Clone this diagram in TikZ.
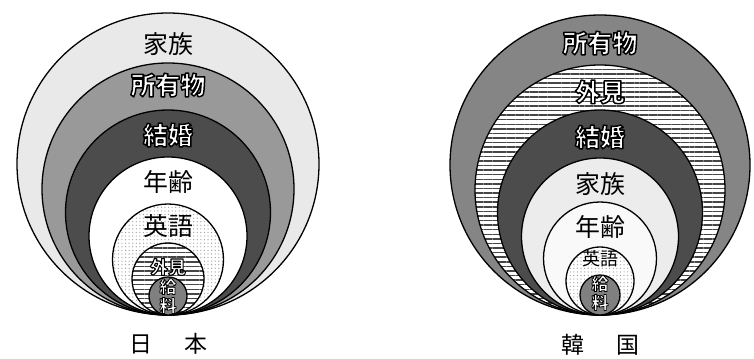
\documentclass[tikz,border=0pt]{standalone}
\usepackage{fontspec}
\setmainfont{Noto Sans CJK JP}
\usetikzlibrary{calc,patterns.meta}

% white letters with a black rim (fill + stroke text mode)
\newcommand{\halo}[2][1.5]{{\bfseries\color{white}%
  \special{pdf:literal direct 2 Tr #1 w 1 j 0 0 0 RG}#2\special{pdf:literal direct 0 Tr}}}

\tikzset{
  ring/.style={draw=black, line width=1.3pt},
  dotring/.style={ring, preaction={fill=white}, pattern={Dots[distance=3.6pt,radius=0.65pt]}, pattern color=gray!75},
  linering/.style={ring, preaction={fill=white}, pattern={Lines[distance=4.6pt,line width=1.5pt]}, pattern color=gray!55!black},
  biglbl/.style={inner sep=0pt, font=\fontsize{25}{25}\selectfont},
  smalllbl/.style={inner sep=0pt, font=\fontsize{18}{18}\selectfont},
  namelbl/.style={inner sep=0pt, font=\fontsize{23}{23}\selectfont}
}

\begin{document}
\begin{tikzpicture}[x=1bp,y=1bp]
    \useasboundingbox (0,0) rectangle (754,358);

    % Define coordinates (bottom touching points)
    \coordinate (J) at (168,43);
    \coordinate (K) at (600,43);

    % Japan circles
    \draw[ring, fill=gray!17] ($(J)+(0,151)$) circle (151);
    \draw[ring, fill=gray!80] ($(J)+(0,126)$) circle (126);
    \draw[ring, fill=black!70] ($(J)+(0,102.5)$) circle (102.5);
    \draw[ring, fill=white] ($(J)+(0,79)$) circle (79);
    \draw[dotring] ($(J)+(0,55.5)$) circle (55.5);
    \draw[linering] ($(J)+(0,36)$) circle (36);
    \draw[ring, fill=black!50] ($(J)+(0,19)$) circle (19);

    % Korea circles
    \draw[ring, fill=black!48] ($(K)+(0,150)$) circle (150);
    \draw[linering] ($(K)+(0,125)$) circle (125);
    \draw[ring, fill=black!70] ($(K)+(0,102.5)$) circle (102.5);
    \draw[ring, fill=gray!15] ($(K)+(0,78.5)$) circle (78.5);
    \draw[ring, fill=gray!5] ($(K)+(0,56.5)$) circle (56.5);
    \draw[dotring] ($(K)+(0,34)$) circle (34);
    \draw[ring, fill=black!50] ($(K)+(0,20)$) circle (20);

    % Japan labels
    \node[biglbl] (J1) at (168,314) {家族};
    \node[biglbl] (J2) at (168,273) {\halo{所有物}};
    \node[biglbl] (J3) at (168,223) {\halo{結婚}};
    \node[biglbl] (J4) at (168,176) {年齢};
    \node[biglbl] (J5) at (168,132) {英語};
    \node[smalllbl] (J6) at (168,91) {\halo[1.1]{外見}};
    \node[smalllbl, align=center, font=\fontsize{17}{19}\selectfont] (J7) at (168,62) {\halo[0.8]{給}\\\halo[0.8]{料}};
    \node[namelbl] (JN) at (168,14) {日\hspace{1.4em}本};

    % Korea labels
    \node[biglbl] (K1) at (600,315) {\halo{所有物}};
    \node[biglbl] (K2) at (600,266) {\halo{外見}};
    \node[biglbl] (K3) at (600,221) {\halo{結婚}};
    \node[biglbl] (K4) at (600,174) {家族};
    \node[biglbl] (K5) at (600,131) {年齢};
    \node[smalllbl] (K6) at (600,99) {英語};
    \node[smalllbl, align=center, font=\fontsize{17}{19}\selectfont] (K7) at (600,65) {\halo[0.8]{給}\\\halo[0.8]{料}};
    \node[namelbl] (KN) at (600,13) {韓\hspace{1.4em}国};

\end{tikzpicture}
\end{document}
